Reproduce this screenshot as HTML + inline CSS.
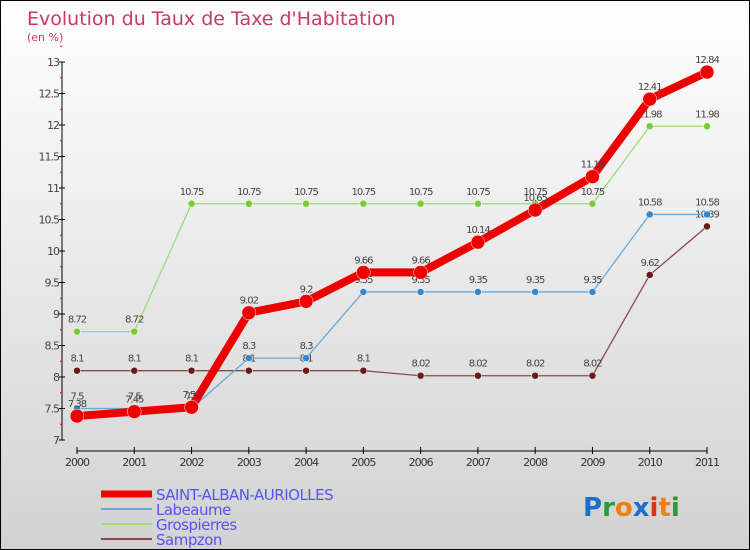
<!DOCTYPE html>
<html><head><meta charset="utf-8"><style>
body{margin:0}
#c{width:750px;height:550px;position:relative;overflow:hidden;box-sizing:border-box;border:1px solid #000;background:linear-gradient(#ffffff,#d2d2d2);font-family:"DejaVu Sans","Liberation Sans",sans-serif}
</style></head><body>
<div id="c">
<svg id="s" width="750" height="550" style="position:absolute;left:0;top:0">
<text x="26" y="24" font-size="19" fill="#c8386a">Evolution du Taux de Taxe d'Habitation</text>
<text x="26" y="40" font-size="11" fill="#c8386a">(en %)</text>
<g id="axes"></g><g id="series"></g><g id="legend"></g>
<text x="582" y="515" font-size="26" font-weight="bold"><tspan fill="#1a6fc8">P</tspan><tspan fill="#2a9a3a">r</tspan><tspan fill="#f08010">o</tspan><tspan fill="#1a6fc8">x</tspan><tspan fill="#e03010">i</tspan><tspan fill="#f08010">t</tspan><tspan fill="#2a9a3a">i</tspan></text>
</svg>
</div>
<script>
const years=[2000,2001,2002,2003,2004,2005,2006,2007,2008,2009,2010,2011];
const yTicks=[7,7.5,8,8.5,9,9.5,10,10.5,11,11.5,12,12.5,13];
const saint=[7.38,7.45,7.52,9.02,9.2,9.66,9.66,10.14,10.65,11.18,12.41,12.84];
const labeaume=[7.5,7.5,7.5,8.3,8.3,9.35,9.35,9.35,9.35,9.35,10.58,10.58];
const grospierres=[8.72,8.72,10.75,10.75,10.75,10.75,10.75,10.75,10.75,10.75,11.98,11.98];
const sampzon=[8.1,8.1,8.1,8.1,8.1,8.1,8.02,8.02,8.02,8.02,9.62,10.39];
const NS="http://www.w3.org/2000/svg";
const xs=i=>76+i*(706-76)/(years.length-1);
const ys=v=>439-(v-7)*63;
function mk(t,a,p){const e=document.createElementNS(NS,t);for(const k in a)e.setAttribute(k,a[k]);p.appendChild(e);return e;}
const ax=document.getElementById('axes');
const yl=mk('line',{x1:61,y1:ys(13),x2:61,y2:ys(7),stroke:'#000','stroke-width':1},ax);


yTicks.forEach(v=>{
 mk('line',{x1:58,y1:ys(v),x2:64,y2:ys(v),stroke:'#000'},ax);
 mk('line',{x1:59,y1:ys(v+0.25),x2:61,y2:ys(v+0.25),stroke:'#e00'},ax);
 const t=mk('text',{x:58,y:ys(v)+4,'font-size':11,'text-anchor':'end',fill:'#444','letter-spacing':'-1'},ax);
 t.textContent=v;
 
 
});
const xl=mk('line',{x1:76,y1:450,x2:706,y2:450,stroke:'#000'},ax);


years.forEach((y,i)=>{
 mk('line',{x1:xs(i),y1:446,x2:xs(i),y2:453,stroke:'#000'},ax);
 const t=mk('text',{x:xs(i),y:465,'font-size':11,'text-anchor':'middle',fill:'#333','letter-spacing':'-1'},ax);
 t.textContent=y;
 
 
});
const sg=document.getElementById('series');
function series(vals,color,lw,r,name,dot){
 const g=mk('g',{},sg);
 
 
 mk('polyline',{points:vals.map((v,i)=>xs(i)+','+ys(v)).join(' '),fill:'none',stroke:color,'stroke-width':lw,'stroke-linejoin':'round'},g);
 vals.forEach((v,i)=>{
  const c=mk('circle',{cx:xs(i),cy:ys(v),r:r,fill:dot,stroke:'#fff','stroke-width':0.5},g);
  
  
  const t=mk('text',{x:xs(i),y:ys(v)-9,'font-size':10,'text-anchor':'middle',fill:'#444','letter-spacing':'-1'},g);
  t.textContent=v;
  
  
 });
}
series(sampzon,'#8b4a4a',1.3,3.5,'sampzon-series','#6a1a1a');
series(grospierres,'#99dd77',1.3,3.5,'grospierres-series','#77cc33');
series(labeaume,'#6aa8d8',1.3,3.5,'labeaume-series','#3388cc');
series(saint,'#ee0000',8,7,'saint-alban-series','#ee0000');
const lg=document.getElementById('legend');
[['SAINT-ALBAN-AURIOLLES','#ee0000',7],['Labeaume','#6aa8d8',2],['Grospierres','#99dd77',2],['Sampzon','#8b4a4a',2]].forEach((d,i)=>{
 const y=493+i*15;
 const g=mk('g',{},lg);
 
 
 mk('line',{x1:100,y1:y,x2:151,y2:y,stroke:d[1],'stroke-width':d[2]},g);
 const t=mk('text',{x:155,y:y+6,'font-size':15,fill:'#5555ee','letter-spacing':'-0.5'},g);
 t.textContent=d[0];
});
</script>
</body></html>
